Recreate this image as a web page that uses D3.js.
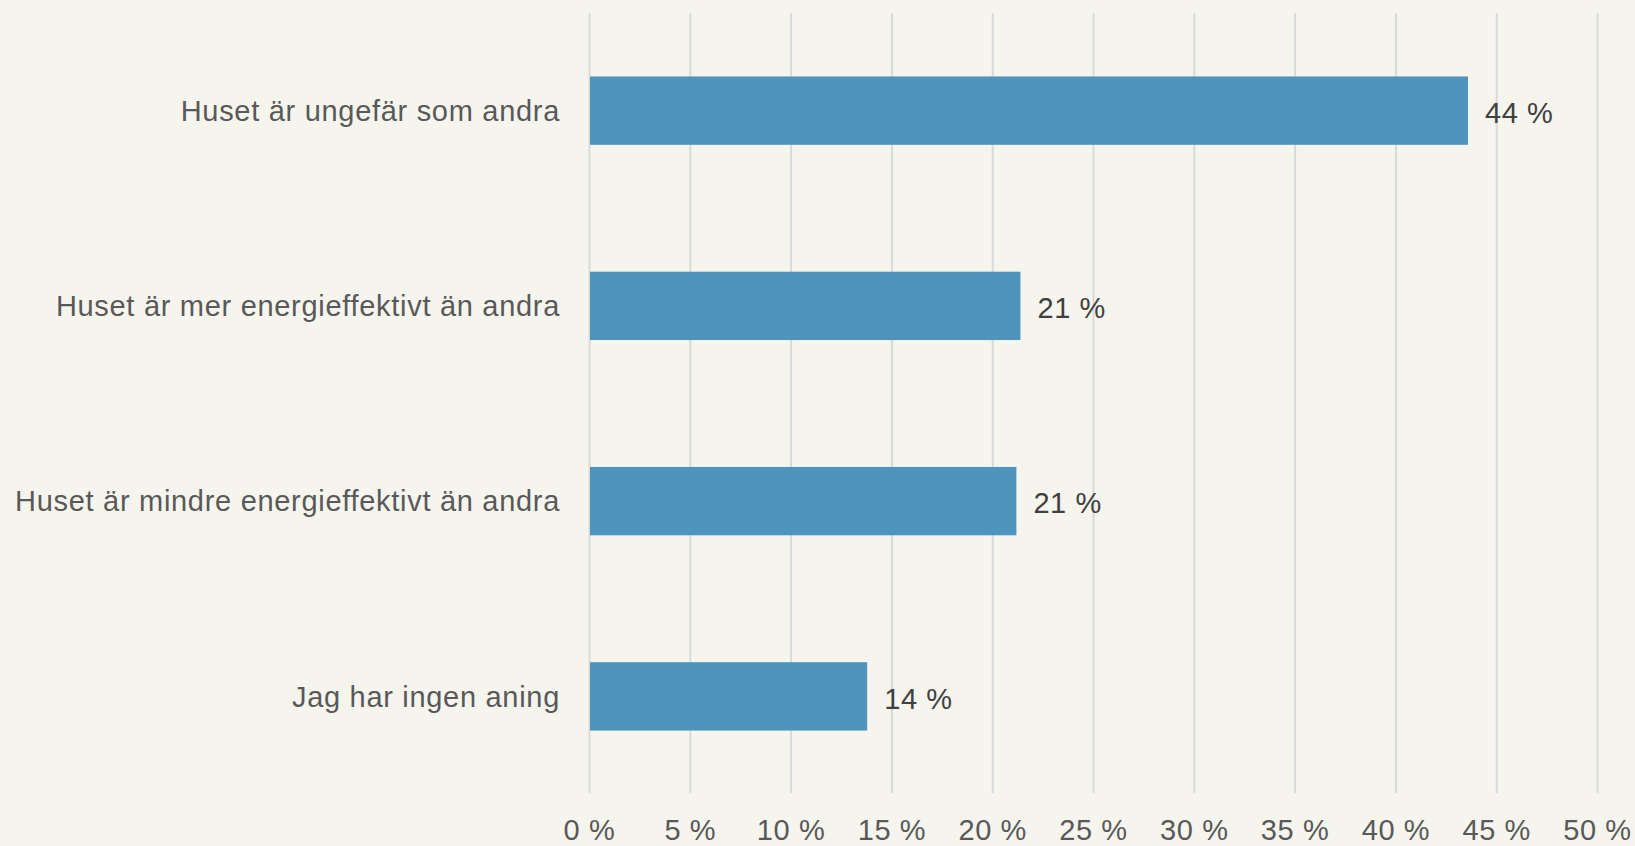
<!DOCTYPE html>
<html>
<head>
<meta charset="utf-8">
<script src="https://cdn.jsdelivr.net/npm/d3@7"></script>
<style>
  html, body { margin: 0; padding: 0; background: #f5f5ee; }
  svg { display: block; font-family: "Liberation Sans", Arial, sans-serif; }
</style>
</head>
<body>
<div id="chart"></div>
<script>
// data
const categories = [
  'Huset är ungefär som andra',
  'Huset är mer energieffektivt än andra',
  'Huset är mindre energieffektivt än andra',
  'Jag har ingen aning'
];
const values = [43.6, 21.4, 21.2, 13.8];
const valueLabels = ['44 %', '21 %', '21 %', '14 %'];
const ticks = [0, 5, 10, 15, 20, 25, 30, 35, 40, 45, 50];

const width = 1635;
const height = 846;
const plot = { left: 589, right: 1597, top: 13, bottom: 794 };

const svg = d3.select('#chart')
  .append('svg')
  .attr('width', width)
  .attr('height', height);

svg.append('rect')
  .attr('width', width)
  .attr('height', height)
  .attr('fill', '#f5f5ee');

const x = d3.scaleLinear()
  .domain([0, 50])
  .range([plot.left, plot.right]);

const y = d3.scaleBand()
  .domain(categories)
  .range([plot.top, plot.bottom])
  .paddingInner(0.65)
  .paddingOuter(0.325);

// vertical gridlines + tick labels
const xAxis = svg.append('g')
  .attr('transform', `translate(0,${plot.bottom - 1})`)
  .call(d3.axisBottom(x)
    .tickValues(ticks)
    .tickSize(-(plot.bottom - 1 - plot.top))
    .tickFormat(d => d + ' %'));

xAxis.select('.domain').remove();
xAxis.selectAll('.tick line')
  .attr('stroke', '#d9d9d9')
  .attr('stroke-width', 2);
xAxis.selectAll('.tick text')
  .attr('y', 47)
  .attr('dy', 0)
  .attr('fill', '#595959')
  .style('font-size', '29px')
  .style('letter-spacing', '0.6px');

// bars
svg.selectAll('rect.bar')
  .data(values)
  .enter()
  .append('rect')
    .attr('class', 'bar')
    .attr('x', x(0) + 1)
    .attr('y', (d, i) => y(categories[i]))
    .attr('width', d => x(d) - x(0) - 1)
    .attr('height', y.bandwidth())
    .attr('fill', '#4f94bd');

// category labels
svg.selectAll('text.cat')
  .data(categories)
  .enter()
  .append('text')
    .attr('class', 'cat')
    .attr('x', plot.left - 29)
    .attr('y', d => y(d) + y.bandwidth() / 2)
    .attr('dy', '0.35em')
    .attr('text-anchor', 'end')
    .attr('fill', '#595959')
    .style('font-size', '29px')
    .style('letter-spacing', '0.7px')
    .text(d => d);

// value labels
svg.selectAll('text.val')
  .data(values)
  .enter()
  .append('text')
    .attr('class', 'val')
    .attr('x', d => x(d) + 17)
    .attr('y', (d, i) => y(categories[i]) + y.bandwidth() / 2)
    .attr('dy', '0.42em')
    .attr('fill', '#404040')
    .style('font-size', '29px')
    .style('letter-spacing', '0.6px')
    .text((d, i) => valueLabels[i]);
</script>
</body>
</html>
